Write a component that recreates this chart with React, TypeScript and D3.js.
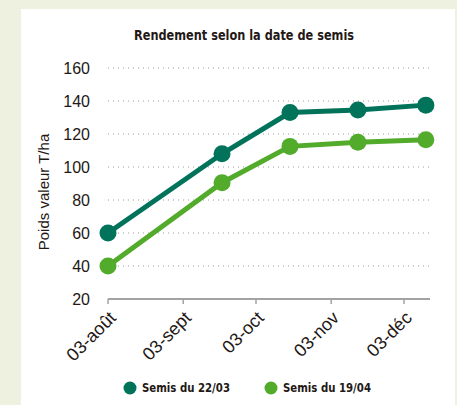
import React from "react";
import * as d3 from "d3";

// chart data
const dates = ["2021-08-03", "2021-09-19", "2021-10-17", "2021-11-14", "2021-12-12"];
const semis2203 = [60, 108, 133, 134.5, 137.5];
const semis1904 = [40, 90.5, 112.5, 115, 116.5];
const tickDates = ["2021-08-03", "2021-09-03", "2021-10-03", "2021-11-03", "2021-12-03"];
const tickLabels = ["03-août", "03-sept", "03-oct", "03-nov", "03-déc"];
const yTicks = [20, 40, 60, 80, 100, 120, 140, 160];
const seriesNames = ["Semis du 22/03", "Semis du 19/04"];
const colors = ["#00735a", "#52ab2b"];

const W = 457;
const H = 405;
const parse = d3.timeParse("%Y-%m-%d");

export default function App() {
  const x = d3
    .scaleTime()
    .domain([parse(tickDates[0])!, parse(tickDates[4])!])
    .range([108, 404]);
  const y = d3.scaleLinear().domain([20, 160]).range([299, 68]);

  const line = d3
    .line<[Date, number]>()
    .x((d) => x(d[0]))
    .y((d) => y(d[1]));

  const series = [semis2203, semis1904].map((vals) =>
    vals.map((v, i) => [parse(dates[i])!, v] as [Date, number])
  );

  const condensed = "'DejaVu Sans Condensed', 'DejaVu Sans', sans-serif";

  return (
    <svg
      width={W}
      height={H}
      style={{ position: "absolute", left: 0, top: 0 }}
      fontFamily="'Liberation Sans', Arial, sans-serif"
    >
      <rect width={W} height={H} fill="#eef1e0" />
      <rect x={21} y={9} width={434} height={H - 9} fill="#ffffff" />

      <text
        x={244}
        y={40}
        textAnchor="middle"
        fontFamily={condensed}
        fontWeight="bold"
        fontSize={14}
        textLength={220}
        lengthAdjust="spacingAndGlyphs"
        fill="#231815"
      >
        Rendement selon la date de semis
      </text>

      {/* grid */}
      {yTicks.slice(1).map((t) => (
        <line
          key={t}
          x1={108}
          x2={430}
          y1={y(t)}
          y2={y(t)}
          stroke="#9a9a9a"
          strokeWidth={1}
          strokeDasharray="1 4"
        />
      ))}
      {yTicks.map((t) => (
        <text
          key={t}
          x={90}
          y={y(t)}
          dy="0.36em"
          textAnchor="end"
          fontSize={16}
          fill="#231815"
        >
          {t}
        </text>
      ))}

      <text
        transform={`translate(49,192) rotate(-90)`}
        textAnchor="middle"
        fontSize={15}
        fill="#231815"
      >
        Poids valeur T/ha
      </text>

      {/* x axis */}
      <line x1={108} x2={430} y1={y(20)} y2={y(20)} stroke="#a3a3a3" strokeWidth={2} />
      {tickDates.map((d, i) => {
        const tx = x(parse(d)!);
        return (
          <g key={d}>
            <line x1={tx} x2={tx} y1={y(20)} y2={y(20) + 5} stroke="#a3a3a3" strokeWidth={1.5} />
            <text
              transform={`translate(${tx + 9},${y(20) + 20}) rotate(-45)`}
              textAnchor="end"
              fontSize={18}
              fill="#231815"
            >
              {tickLabels[i]}
            </text>
          </g>
        );
      })}

      {/* series */}
      {series.map((s, k) => (
        <g key={k}>
          <path d={line(s) ?? ""} fill="none" stroke={colors[k]} strokeWidth={5} />
          {s.map((p, i) => (
            <circle key={i} cx={x(p[0])} cy={y(p[1])} r={8.5} fill={colors[k]} />
          ))}
        </g>
      ))}

      {/* legend */}
      {seriesNames.map((n, k) => (
        <g key={n} transform={`translate(${[130, 271][k]},388)`}>
          <circle r={6.5} fill={colors[k]} />
          <text
            x={12}
            dy="0.36em"
            fontFamily={condensed}
            fontWeight="bold"
            fontSize={12}
            textLength={88}
            lengthAdjust="spacingAndGlyphs"
            fill="#231815"
          >
            {n}
          </text>
        </g>
      ))}
    </svg>
  );
}
